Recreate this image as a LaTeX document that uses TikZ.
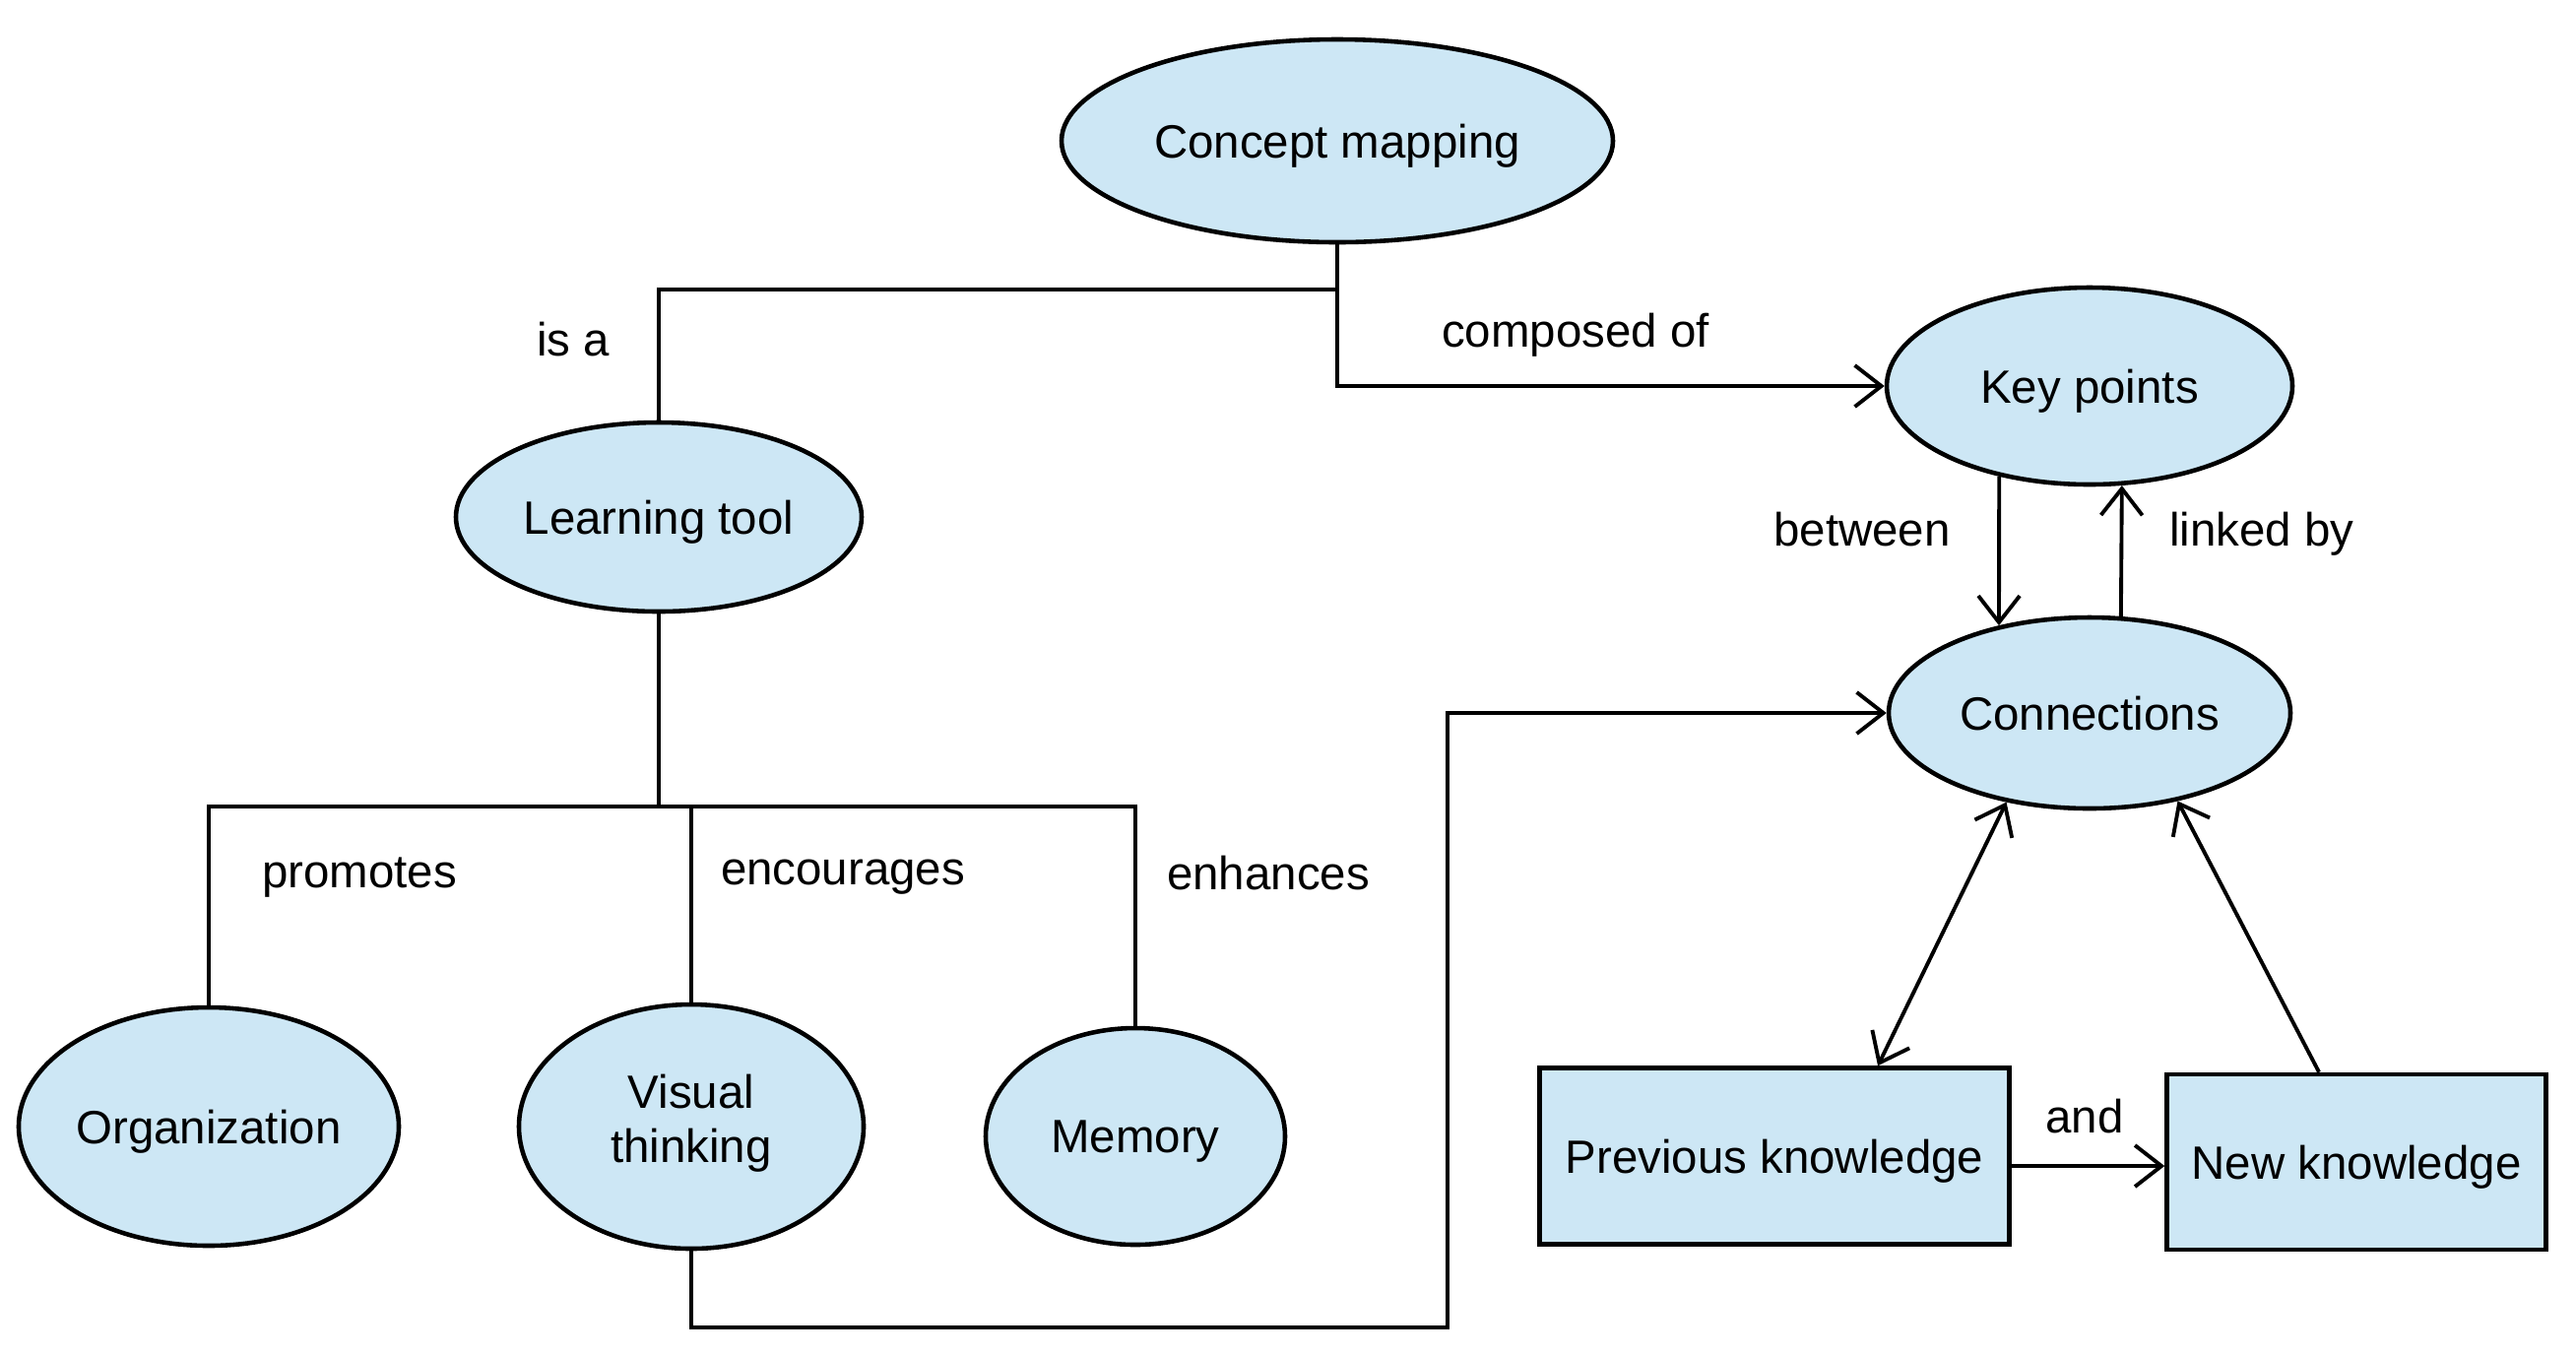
\documentclass[tikz,border=0pt]{standalone}
\usepackage{fontspec}
\setmainfont{Liberation Sans}
\usetikzlibrary{shapes.geometric,arrows.meta}
\definecolor{nodeblue}{RGB}{205,231,245}

\begin{document}
\begin{tikzpicture}[
  >={Straight Barb[length=2.7mm,width=4.2mm]},
  every node/.style={font=\fontsize{13.5}{15.6}\selectfont, text depth=0pt},
  concept/.style={ellipse, draw, line width=1.3pt, fill=nodeblue, inner sep=0pt, align=center},
  knowbox/.style={rectangle, draw, line width=1.3pt, fill=nodeblue, inner sep=0pt},
  link/.style={line width=1.1pt}
]
\useasboundingbox (0,0) rectangle (26.16,-13.76);

\node[concept, minimum width=5.60cm, minimum height=2.06cm] (cm) at (13.58,-1.43) {Concept mapping};
\node[concept, minimum width=4.12cm, minimum height=2.00cm] (kp) at (21.22,-3.92) {Key points};
\node[concept, minimum width=4.12cm, minimum height=1.92cm] (lt) at (6.69,-5.25) {Learning tool};
\node[concept, minimum width=4.08cm, minimum height=1.94cm] (conn) at (21.22,-7.24) {Connections};
\node[concept, minimum width=3.86cm, minimum height=2.42cm] (org) at (2.12,-11.44) {Organization};
\node[concept, minimum width=3.50cm, minimum height=2.48cm, text depth=4.7pt] (vt) at (7.02,-11.44) {Visual\\thinking};
\node[concept, minimum width=3.04cm, minimum height=2.20cm] (mem) at (11.53,-11.54) {Memory};
\node[knowbox, minimum width=4.77cm, minimum height=1.79cm] (pk) at (18.02,-11.74) {Previous knowledge};
\node[knowbox, minimum width=3.85cm, minimum height=1.78cm] (nk) at (23.93,-11.80) {New knowledge};

\coordinate (j1) at (13.58,-2.94);
\coordinate (j2) at (6.69,-8.19);
\coordinate (j3) at (14.70,-13.48);

\draw[link] (cm.south) -- (j1) -| (lt.north);
\draw[link, ->] (j1) |- (kp.west);
\draw[link] (lt.south) -- (j2);
\draw[link] (org.north) |- (j2) -| (mem.north);
\draw[link] (vt.north) -- (vt.north |- j2);
\draw[link, ->] (vt.south) |- (j3) |- (conn.west);
\draw[link, ->] (kp.-135.8) -- (conn.136.7);
\draw[link, ->] (conn.72.1) -- (kp.-72.6);
\draw[link, <->] ([xshift=1.05cm]pk.north) -- (conn.-133);
\draw[link, ->] ([xshift=-0.38cm]nk.north) -- (conn.-45);
\draw[link, ->] ([yshift=-1mm]pk.east) -- ([yshift=-1mm]pk.east -| nk.west);

\node (isa) at (5.82,-3.44) {is a};
\node (compof) at (16.00,-3.35) {composed of};
\node (betw) at (18.91,-5.37) {between};
\node (linkby) at (22.97,-5.37) {linked by};
\node (prom) at (3.65,-8.86) {promotes};
\node (enc) at (8.56,-8.86) {encourages};
\node (enh) at (12.88,-8.86) {enhances};
\node (and) at (21.17,-11.33) {and};
\end{tikzpicture}
\end{document}
